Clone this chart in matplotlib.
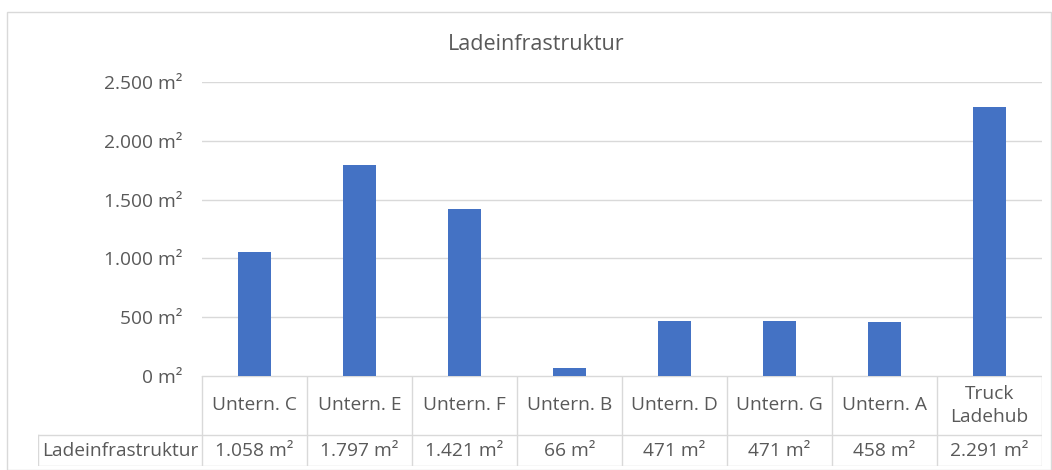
import matplotlib.pyplot as plt
from matplotlib.patches import Rectangle

# Data
categories = ["Untern. C", "Untern. E", "Untern. F", "Untern. B",
              "Untern. D", "Untern. G", "Untern. A", "Truck\nLadehub"]
values = [1058, 1797, 1421, 66, 471, 471, 458, 2291]
series_name = "Ladeinfrastruktur"
title = "Ladeinfrastruktur"
y_ticks = [0, 500, 1000, 1500, 2000, 2500]

BAR_COLOUR = "#4472C4"
GRID_COLOUR = "#D9D9D9"
TEXT_COLOUR = "#595959"
FS = 13.8

plt.rcParams["font.family"] = ["Open Sans", "DejaVu Sans"]


def fmt_m2(v):
    return f"{v:,}".replace(",", ".") + " m²"


W, H = 1052, 470
fig = plt.figure(figsize=(W / 100, H / 100), dpi=100)

# Chart border
fig.add_artist(Rectangle((7 / W, 0), (W - 8) / W, (H - 12) / H,
                         transform=fig.transFigure, fill=False,
                         edgecolor=GRID_COLOUR, linewidth=1))

# Plot area in pixel coords
px_left, px_right = 202, 1042
px_top, px_zero = 82, 376
ax = fig.add_axes([px_left / W, (H - px_zero) / H,
                   (px_right - px_left) / W, (px_zero - px_top) / H])

n = len(categories)
xs = list(range(n))
ax.bar(xs, values, width=0.32, color=BAR_COLOUR, zorder=3)
ax.set_xlim(-0.5, n - 0.5)
ax.set_ylim(0, 2500)
ax.set_yticks(y_ticks)
ax.set_yticklabels([fmt_m2(t) for t in y_ticks], fontsize=FS, color=TEXT_COLOUR)
ax.set_xticks([])
ax.tick_params(axis="y", length=0, pad=14)
ax.grid(axis="y", color=GRID_COLOUR, linewidth=1, zorder=0)
for s in ax.spines.values():
    s.set_visible(False)

fig.text(536 / W, (H - 45) / H, title,
         ha="center", va="center", fontsize=15.5, color=TEXT_COLOUR)

# Data table below the axis
tab_left, tab_right = 38, 1042
row1_bot, row2_bot = 435, 466
tab = fig.add_axes([tab_left / W, (H - row2_bot) / H,
                    (tab_right - tab_left) / W, (row2_bot - px_zero) / H])
tab.set_xlim(tab_left, tab_right)
tab.set_ylim(row2_bot, px_zero)
tab.axis("off")

col_w = (px_right - px_left) / n
lw = 1
tab.plot([px_left, px_right], [px_zero, px_zero], color=GRID_COLOUR, lw=lw)
tab.plot([tab_left, tab_right], [row1_bot, row1_bot], color=GRID_COLOUR, lw=lw)
tab.plot([tab_left, tab_right], [row2_bot - 0.5, row2_bot - 0.5], color=GRID_COLOUR, lw=lw)
tab.plot([tab_left + 0.5, tab_left + 0.5], [row1_bot, row2_bot], color=GRID_COLOUR, lw=lw)
for i in range(n + 1):
    x = px_left + i * col_w
    if i == n:
        x -= 0.5
    tab.plot([x, x], [px_zero, row2_bot], color=GRID_COLOUR, lw=lw)

for i, (cat, v) in enumerate(zip(categories, values)):
    cx = px_left + (i + 0.5) * col_w
    tab.text(cx, (px_zero + row1_bot) / 2, cat, ha="center", va="center",
             fontsize=FS, color=TEXT_COLOUR, linespacing=1.4)
    tab.text(cx, (row1_bot + row2_bot) / 2, fmt_m2(v), ha="center", va="center",
             fontsize=FS, color=TEXT_COLOUR)
tab.text((tab_left + px_left) / 2, (row1_bot + row2_bot) / 2, series_name,
         ha="center", va="center", fontsize=FS, color=TEXT_COLOUR)

fig.savefig("out.png", dpi=100)
